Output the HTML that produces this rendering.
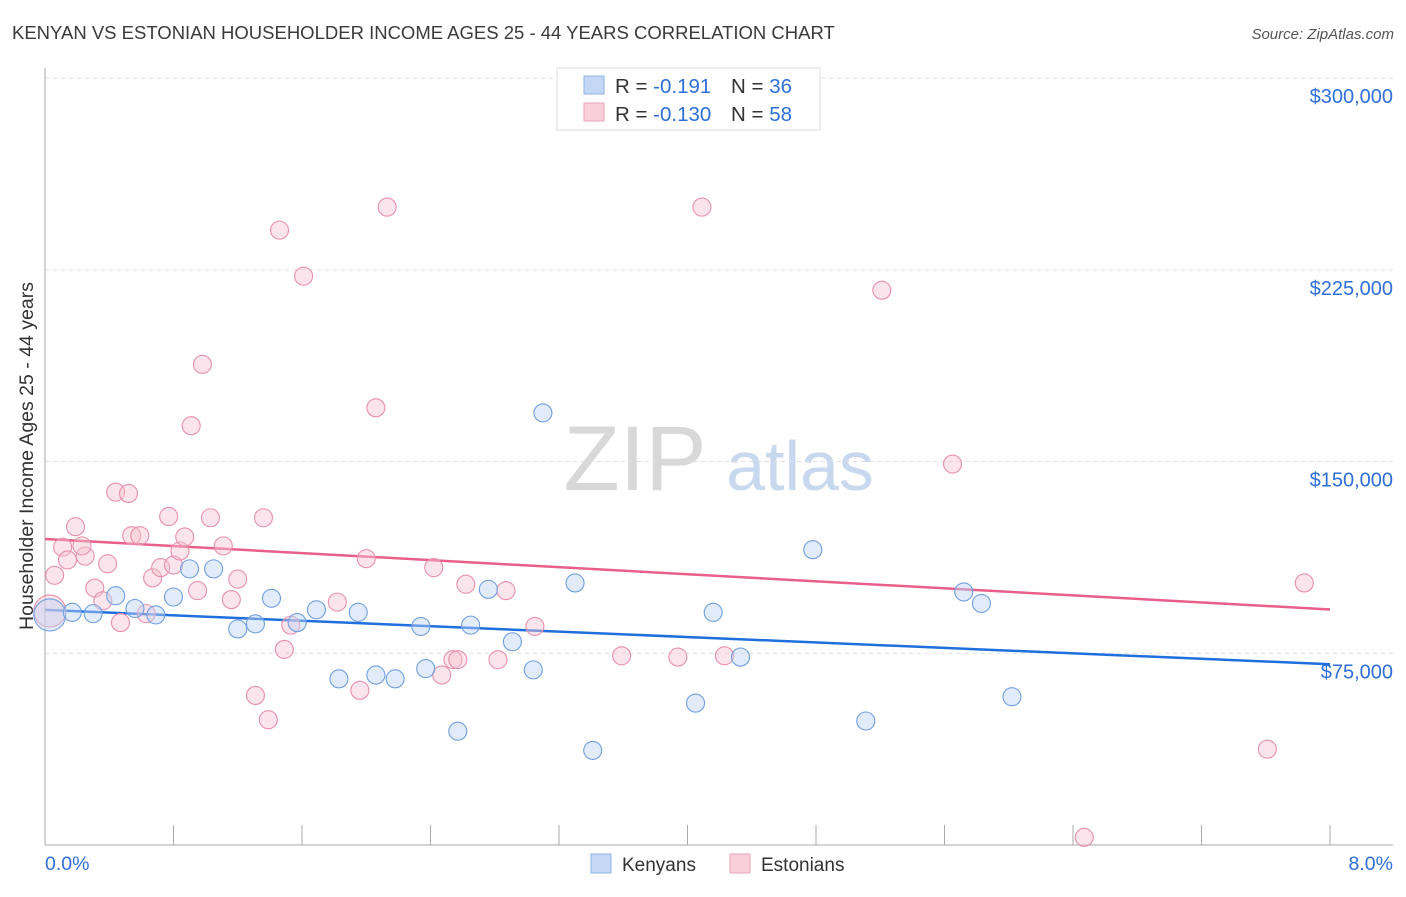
<!DOCTYPE html>
<html><head><meta charset="utf-8">
<style>
body{margin:0;background:#fff;font-family:"Liberation Sans",sans-serif;}
svg text{font-family:"Liberation Sans",sans-serif;}
</style></head>
<body>
<svg id="chart" width="1406" height="892" xmlns="http://www.w3.org/2000/svg">
<text x="12" y="39" font-size="18.5" fill="#3a3a3a">KENYAN VS ESTONIAN HOUSEHOLDER INCOME AGES 25 - 44 YEARS CORRELATION CHART</text>
<text x="1394" y="39" font-size="15" fill="#555" text-anchor="end" font-style="italic">Source: ZipAtlas.com</text>
<g>
<text x="635" y="490" font-size="92" fill="#d8d8d8" text-anchor="middle" font-family="Liberation Serif,serif">ZIP</text>
<text x="800" y="490" font-size="70" fill="#c8d8ee" text-anchor="middle">atlas</text>
</g>
<g id="grid"></g>
<g id="axes"></g>
<text transform="translate(33,456) rotate(-90)" font-size="19.5" fill="#333" text-anchor="middle">Householder Income Ages 25 - 44 years</text>
<g id="lines"></g>
<g id="points"></g>
<g>
<rect x="557" y="68" width="263" height="62" fill="#fff" stroke="#ddd"/>
<rect x="584" y="76" width="20" height="18" fill="#c4d8f5" stroke="#8fb2e6"/>
<rect x="584" y="103" width="20" height="18" fill="#f9cfdb" stroke="#eca3b9"/>
<text x="615" y="93" font-size="20.5" fill="#333">R = <tspan fill="#2e6fd8">-0.191</tspan>  <tspan dx="14">N = </tspan><tspan fill="#2e6fd8">36</tspan></text>
<text x="615" y="121" font-size="20.5" fill="#333">R = <tspan fill="#2e6fd8">-0.130</tspan>  <tspan dx="14">N = </tspan><tspan fill="#2e6fd8">58</tspan></text>
</g>
<g>
<rect x="591" y="854" width="20" height="19" fill="#c4d8f5" stroke="#8fb2e6"/>
<text x="622" y="871" font-size="19" fill="#333">Kenyans</text></g>
<g>
<rect x="730" y="854" width="20" height="19" fill="#f9cfdb" stroke="#eca3b9"/>
<text x="761" y="871" font-size="19" fill="#333">Estonians</text></g>
</svg>
<script>
const yTicks=[75000,150000,225000,300000];
const yTickLabels=["$75,000","$150,000","$225,000","$300,000"];
const kenX=[0.03,0.17,0.30,0.44,0.56,0.69,0.80,0.90,1.05,1.20,1.31,1.41,1.57,1.69,1.83,1.95,2.06,2.18,2.34,2.37,2.57,2.65,2.76,2.91,3.04,3.10,3.30,3.41,4.05,4.16,4.33,4.78,5.11,5.72,5.83,6.02];
const kenY=[90000,91000,90500,97500,92500,90000,97000,108000,108000,84500,86500,96500,87000,92000,65000,91000,66500,65000,85500,69000,44500,86000,100000,79500,68500,169000,102500,37000,55500,91000,73500,115500,48500,99000,94500,58000];
const estX=[0.03,0.06,0.11,0.19,0.14,0.25,0.23,0.31,0.36,0.39,0.44,0.47,0.52,0.54,0.59,0.63,0.67,0.72,0.77,0.80,0.84,0.87,0.91,0.95,0.98,1.03,1.11,1.16,1.20,1.31,1.36,1.39,1.46,1.49,1.53,1.61,1.82,1.96,2.00,2.06,2.13,2.42,2.47,2.54,2.57,2.62,2.82,2.87,3.05,3.59,3.94,4.09,4.23,5.21,5.65,6.47,7.61,7.84];
const estY=[91500,105500,116500,124500,111500,113000,117000,100500,95500,110000,138000,87000,137500,121000,121000,90500,104500,108500,128500,109500,115000,120500,164000,99500,188000,128000,117000,96000,104000,58500,128000,49000,240500,76500,86000,222500,95000,60500,112000,171000,249500,108500,66500,72500,72500,102000,72500,99500,85500,74000,73500,249500,74000,217000,149000,3000,37500,102500];
const X0=45,X1=1330,YB=845,YT=78;
const sx=v=>X0+v/8*(X1-X0);
const sy=v=>YB-v/300000*(YB-YT);
const NS="http://www.w3.org/2000/svg";
function mk(t,a,p){const e=document.createElementNS(NS,t);for(const k in a)e.setAttribute(k,a[k]);p.appendChild(e);return e;}
const grid=document.getElementById('grid'),axes=document.getElementById('axes');
yTicks.forEach((v,i)=>{
 const l=mk('line',{x1:X0,x2:1393,y1:sy(v),y2:sy(v),stroke:'#ddd','stroke-dasharray':'4,4'},grid);
 
 
 const t=mk('text',{x:1393,y:sy(v)+25,'font-size':20,fill:'#2e6fd8','text-anchor':'end'},axes);
 t.textContent=yTickLabels[i];
 
 
});
const ax=mk('line',{x1:X0,x2:X0,y1:68,y2:YB,stroke:'#aaa'},axes);


const bx=mk('line',{x1:X0,x2:1393,y1:YB,y2:YB,stroke:'#aaa'},axes);


for(let i=0;i<=10;i++){const x=X0+i*128.5;const tk=mk('line',{x1:x,x2:x,y1:YB,y2:YB-20,stroke:'#aaa'},axes);
 
 }
[["0.0%",45,'start'],["8.0%",1393,'end']].forEach(d=>{const t=mk('text',{x:d[1],y:870,'font-size':19.5,fill:'#2e6fd8','text-anchor':d[2]},axes);t.textContent=d[0];
 
 });
function fit(xs,ys){const n=xs.length,mx=xs.reduce((a,b)=>a+b)/n,my=ys.reduce((a,b)=>a+b)/n;let sxy=0,sxx=0;xs.forEach((x,i)=>{sxy+=(x-mx)*(ys[i]-my);sxx+=(x-mx)**2});const b=sxy/sxx;return[my-b*mx,b];}
const lines=document.getElementById('lines'),pts=document.getElementById('points');
function series(xs,ys,fill,stroke,lc,name){
 xs.forEach((x,i)=>{const r=i==0?16:9;const c=mk('circle',{cx:sx(x),cy:sy(ys[i]),r:r,fill:fill,'fill-opacity':0.45,stroke:stroke,'stroke-width':1.1},pts);
  
  });
 const [a,b]=fit(xs,ys);
 const l=mk('line',{x1:sx(0),y1:sy(a),x2:sx(8),y2:sy(a+b*8),stroke:lc,'stroke-width':2.5},lines);
 
 
}
series(estX,estY,'#f7c3d3','#e890ab','#e8608a','estonian');
series(kenX,kenY,'#bcd3f3','#6f9fe0','#1f6fdc','kenyan');
</script>
</body></html>
